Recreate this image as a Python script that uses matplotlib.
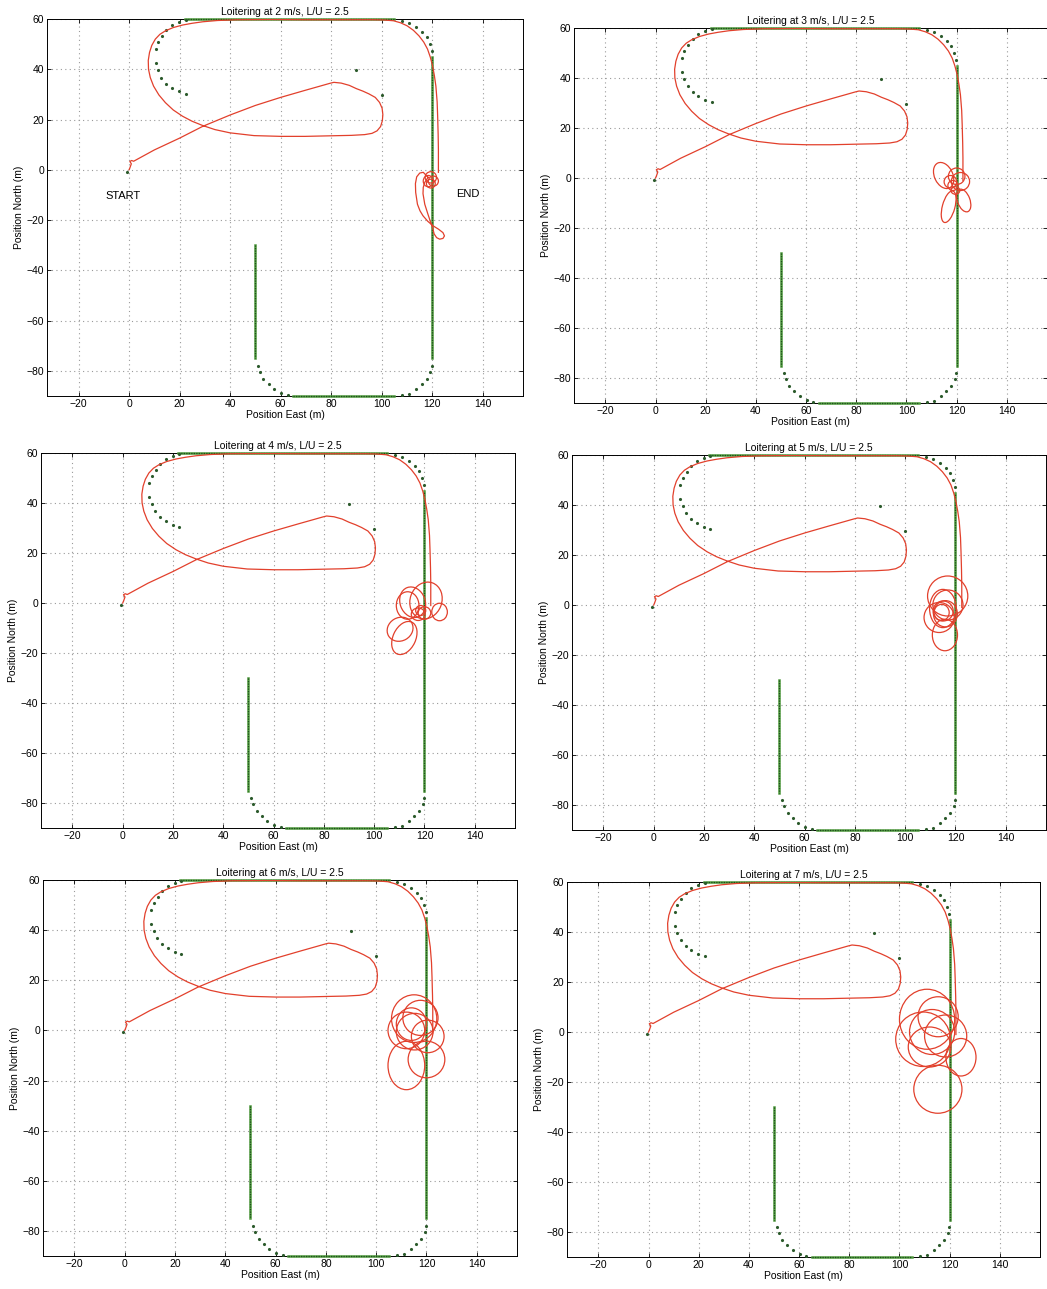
import matplotlib.pyplot as plt
from matplotlib.patches import Ellipse

plt.rcParams['font.family'] = ['Liberation Sans', 'DejaVu Sans']
plt.rcParams['font.size'] = 7.5

# loiter speeds, one panel each
speeds = [2, 3, 4, 5, 6, 7]

# common flown route (east, north) up to the loiter point
route_east = [0.0, 0.3, 0.9, 0.3, 1.0, 1.8, 10.0, 20.0, 29.2, 40.0, 50.0, 60.0, 70.0, 76.0,
              79.5, 81.1, 84.0, 87.2, 90.0, 92.6, 95.0, 97.5, 99.2, 100.2, 100.5, 100.3,
              99.6, 98.2, 96.2, 93.3, 88.0, 83.2, 69.7, 60.2, 49.5, 40.0, 34.0, 29.2, 25.0,
              21.2, 17.5, 14.4, 11.8, 9.7, 8.4, 7.7, 7.6, 8.1, 9.0, 10.4, 12.2, 14.4, 17.5,
              21.2, 25.0, 29.2, 35.0, 42.7, 56.2, 69.7, 96.6, 101.0, 104.7, 107.5, 110.1,
              112.6, 114.8, 116.7, 118.2, 119.3, 120.2, 120.9, 121.5, 122.0, 122.2, 122.4,
              122.5, 122.5]
route_north = [0.0, 0.7, 2.4, 3.3, 3.7, 3.4, 7.9, 12.6, 17.3, 21.8, 25.6, 28.8, 31.7, 33.4,
               34.4, 34.8, 34.5, 33.6, 32.3, 31.3, 30.2, 28.8, 26.8, 24.5, 22.0, 19.5,
               17.2, 15.5, 14.5, 14.0, 13.7, 13.6, 13.3, 13.3, 13.6, 14.7, 16.0, 17.6, 19.3,
               21.3, 23.8, 26.7, 29.8, 33.3, 36.7, 40.0, 43.5, 46.7, 49.5, 52.0, 53.9, 55.3,
               56.6, 57.6, 58.3, 58.9, 59.4, 59.7, 59.8, 59.7, 59.7, 59.6, 59.3, 58.5, 57.3,
               55.5, 53.3, 50.8, 48.0, 44.8, 41.3, 37.5, 33.3, 27.0, 21.3, 14.0,
               8.0, -1.0]

# sparse waypoints (turns and single points)
wp_east = [22.5, 19.8, 17.1, 14.8, 13.1, 11.5, 10.6, 10.6, 11.5, 12.8, 14.8, 17.1, 19.8, 22.5,
           108.1, 111.0, 113.8, 116.2, 117.8, 119.1, 119.8,
           51.1, 51.9, 53.2, 55.3, 57.5, 60.2, 62.9,
           108.1, 111.0, 113.7, 115.9, 117.8, 119.3, 119.9,
           90.0, 100.0, -0.7]
wp_north = [59.8, 58.7, 57.6, 55.6, 53.3, 50.9, 48.0, 42.3, 39.6, 36.7, 34.3, 32.7, 31.3, 30.3,
            59.1, 58.3, 56.7, 54.9, 52.7, 50.0, 47.3,
            -77.9, -80.4, -83.1, -85.3, -87.3, -88.9, -89.7,
            -89.7, -89.1, -87.3, -85.3, -83.1, -80.4, -78.0,
            39.7, 29.6, -0.8]

# densely spaced straight legs (start, end)
leg_e0 = [50, 65, 120, 105]
leg_n0 = [-30, -90, -75, 60]
leg_e1 = [50, 105, 120, 22]
leg_n1 = [-75, -90, 45, 60]

# 2 m/s: long figure-eight excursion below the loiter point
fig8_east = [118.4, 116.5, 115.1, 113.9, 113.4, 113.5, 114.2, 115.2, 116.4, 118.3, 120.4,
             122.5, 124.3, 124.9, 124.3, 123.0, 121.8, 120.8, 120.2, 119.3, 118.3, 117.1,
             116.4, 116.5, 117.1, 118.4]
fig8_north = [-3.0, -1.0, -1.3, -2.8, -5.5, -9.0, -13.7, -16.3, -18.3, -20.5, -22.3,
              -23.6, -25.0, -26.3, -27.3, -27.6, -27.0, -25.5, -23.0, -20.5, -17.5, -13.7,
              -9.5, -7.0, -5.0, -3.0]

# loiter loops per speed: (east, north, width, height, angle)
loops_2 = [(119.5, -3.0, 4.5, 4.5, 0), (118.5, -4.5, 4.0, 4.5, 0),
           (120.5, -4.5, 4.0, 4.0, 0), (119.5, -5.5, 3.5, 3.5, 0)]
loops_3 = [(114.8, 1.0, 7.3, 11.0, 25), (120.0, 0.7, 6.6, 6.6, 0), (121.5, -1.4, 7.3, 7.2, 0),
           (116.8, -11.5, 5.0, 13.0, -15), (122.8, -9.0, 5.0, 9.5, 20),
           (118.5, -3.0, 4.0, 4.0, 0), (119.5, -5.0, 3.5, 3.0, 0), (117.5, -1.5, 5.0, 5.0, 0)]
loops_4 = [(120.6, 1.0, 12.6, 15.0, -20), (126.0, -3.6, 6.2, 7.0, 0),
           (115.3, 0.3, 10.0, 12.5, 20), (113.3, -1.0, 9.0, 11.0, 0),
           (117.5, -4.5, 5.5, 5.0, 0), (120.0, -4.0, 5.0, 5.0, 0), (118.5, -3.0, 4.0, 4.0, 0),
           (110.3, -10.5, 10.6, 9.3, 30), (112.0, -14.0, 9.0, 14.0, -25)]
loops_5 = [(116.9, 3.6, 16.0, 16.0, 0), (115.0, -1.4, 10.6, 15.3, 0), (115.1, -2.4, 8.0, 8.0, 0),
           (114.5, -3.0, 6.0, 6.5, 0), (115.8, -12.0, 10.0, 12.6, 0),
           (113.5, -5.0, 12.0, 12.0, 0), (117.0, 0.0, 12.0, 12.0, 0), (116.0, -3.5, 9.5, 10.5, 0)]
loops_6 = [(115.1, 4.7, 18.0, 19.0, 0), (117.6, 5.0, 14.0, 14.0, 0), (112.0, 0.0, 14.6, 14.6, 0),
           (115.3, -0.5, 14.6, 14.6, 0), (120.5, -2.4, 13.0, 13.0, 0),
           (112.0, -14.0, 14.6, 19.3, 0), (120.0, -11.6, 14.6, 14.6, 0), (114.0, 2.5, 12.0, 13.0, 0)]
loops_7 = [(111.0, 5.1, 22.0, 24.0, 0), (109.4, -2.9, 21.8, 21.8, 0), (115.4, 6.1, 16.0, 16.0, 0),
           (118.4, -1.6, 16.8, 16.8, 0), (124.5, -10.1, 12.0, 15.0, 0),
           (115.3, -22.9, 19.2, 19.2, 0), (113.0, 0.0, 18.0, 18.0, 0), (112.0, -6.0, 17.0, 16.0, 0)]
loops = [loops_2, loops_3, loops_4, loops_5, loops_6, loops_7]

# axes boxes in pixels: left, top, right, bottom
boxes = [(47, 19, 523, 396), (574, 28, 1047, 403),
         (41, 453, 515, 828), (572, 455, 1046, 830),
         (43, 880, 517, 1256), (567, 882, 1040, 1257)]

W, H = 1047, 1289
red = '#e2402c'
fig = plt.figure(figsize=(W / 100, H / 100), dpi=100)

for i, speed in enumerate(speeds):
    l, t, r, b = boxes[i]
    ax = fig.add_axes([l / W, 1 - b / H, (r - l) / W, (b - t) / H])
    ax.set_xlim(-32.5, 156)
    ax.set_ylim(-90, 60)
    ax.set_xticks(range(-20, 141, 20))
    ax.set_yticks(range(-80, 61, 20))
    ax.tick_params(direction='in', top=True, right=True, length=3, width=0.6, pad=2,
                   labelsize=7.5)
    ax.grid(True, linestyle=(0, (1, 3)), color='#9a9a9a', lw=0.8)
    for sp in ax.spines.values():
        sp.set_linewidth(0.7)

    # waypoints
    for k in range(len(leg_e0)):
        ax.plot([leg_e0[k], leg_e1[k]], [leg_n0[k], leg_n1[k]], color='#4f9b3c', lw=1.8,
                clip_on=False, zorder=3)
        ax.plot([leg_e0[k], leg_e1[k]], [leg_n0[k], leg_n1[k]], color='#1e4d1e', lw=0.9,
                ls=(0, (1, 1)), clip_on=False, zorder=3)
    ax.plot(wp_east, wp_north, ls='none', marker='.', ms=2.5, color='#2b5a2b', zorder=3)

    # flown track
    ax.plot(route_east, route_north, color=red, lw=0.9, zorder=4)
    if speed == 2:
        ax.plot(fig8_east, fig8_north, color=red, lw=0.9, zorder=4)
    for e, n, w, h, a in loops[i]:
        ax.add_patch(Ellipse((e, n), w, h, angle=a, fill=False, ec=red, lw=0.9, zorder=4))

    ax.set_title(f'Loitering at {speed} m/s, L/U = 2.5', fontsize=7.5, pad=3)
    ax.set_xlabel('Position East (m)', fontsize=7.5, labelpad=1)
    ax.set_ylabel('Position North (m)', fontsize=7.5, labelpad=2)

    if speed == 2:
        ax.text(-2.5, -10.5, 'START', ha='center', va='center', fontsize=8)
        ax.text(134, -9.5, 'END', ha='center', va='center', fontsize=8)

fig.savefig('out.png', dpi=100)
